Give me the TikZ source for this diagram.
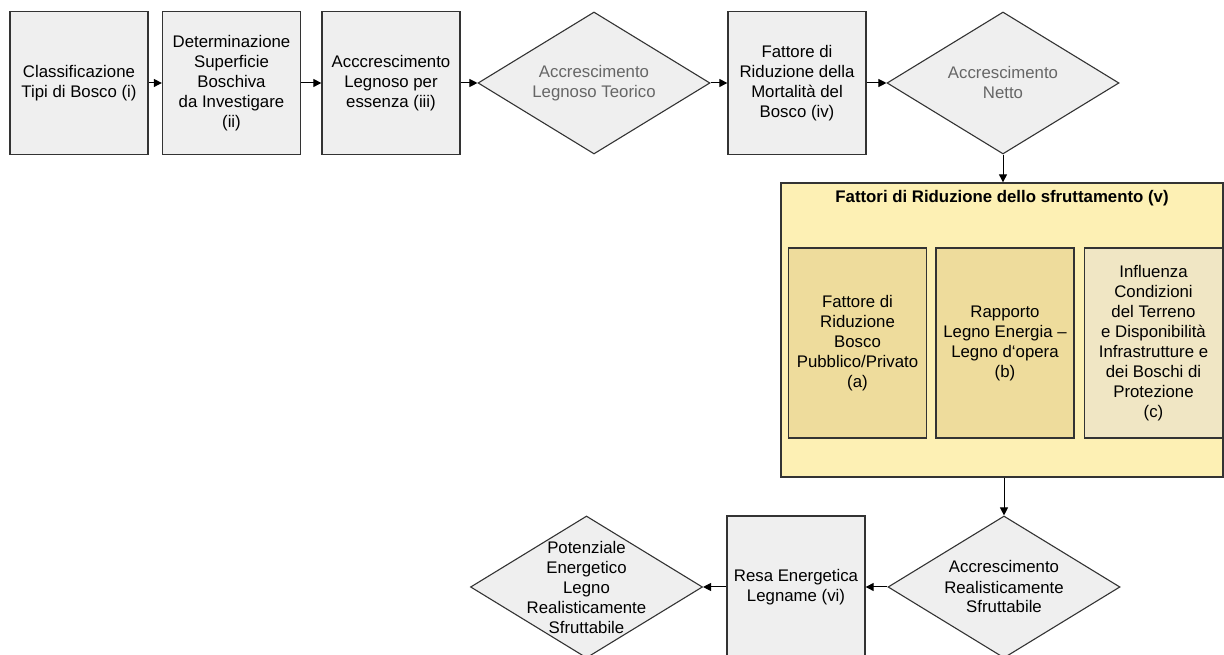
\documentclass[tikz,border=0pt]{standalone}
\usepackage{fontspec}
\setmainfont{Liberation Sans}
\usetikzlibrary{shapes.geometric,arrows.meta}

\definecolor{boxgray}{HTML}{EFEFEF}
\definecolor{linegray}{HTML}{333333}
\definecolor{txtgray}{HTML}{666666}
\definecolor{panelyel}{HTML}{FDF0B4}
\definecolor{factdark}{HTML}{EEDC9C}
\definecolor{factlight}{HTML}{F0E6C4}

\tikzset{
  stepbox/.style={draw=linegray, line width=1.3pt, fill=boxgray, align=center,
    minimum width=138pt, minimum height=143pt, inner sep=0pt},
  decision/.style={diamond, draw=linegray, line width=1.1pt, fill=boxgray,
    minimum width=232pt, minimum height=142pt, inner sep=0pt},
  lbl/.style={align=center},
  factor/.style={stepbox, minimum height=190pt, fill=factdark},
  flow/.style={-{Triangle[length=8pt,width=8pt]}, line width=1pt, black}
}

\begin{document}
\begin{tikzpicture}[x=1pt, y=1pt, font=\fontsize{16.8}{20}\selectfont]
\useasboundingbox (0,0) rectangle (1224,655);
\clip (0,0) rectangle (1224,655);

% first row
\node[stepbox] (tipi) at (79,572) {Classificazione\\Tipi di Bosco (i)};
\node[stepbox] (sup) at (231.5,572) {Determinazione\\Superficie\\Boschiva\\da Investigare\\(ii)};
\node[stepbox] (essenza) at (391,572) {Acccrescimento\\Legnoso per\\essenza (iii)};
\node[decision, label={[lbl, text=txtgray]center:Accrescimento\\Legnoso Teorico}] (teorico) at (594,572) {};
\node[stepbox] (mort) at (797,572) {Fattore di\\Riduzione della\\Mortalità del\\Bosco (iv)};
\node[decision, label={[lbl, text=txtgray]center:Accrescimento\\Netto}] (netto) at (1003,572) {};

% reduction factors
\node[draw=linegray, line width=1.3pt, fill=panelyel, minimum width=442pt,
  minimum height=294pt, inner sep=0pt] (fattori) at (1002,325) {};
\node[font=\fontsize{16.8}{20}\selectfont\bfseries] (titolo) at (1002,457) {Fattori di Riduzione dello sfruttamento (v)};
\node[factor] (pubpriv) at (857.5,312) {Fattore di\\Riduzione\\Bosco\\Pubblico/Privato\\(a)};
\node[factor] (rapporto) at (1005,312) {Rapporto\\Legno Energia –\\Legno d‘opera\\(b)};
\node[factor, fill=factlight] (terreno) at (1153.5,312) {Influenza\\Condizioni\\del Terreno\\e Disponibilità\\Infrastrutture e\\dei Boschi di\\Protezione\\(c)};

% last row
\node[decision, label={[lbl]center:Accrescimento\\Realisticamente\\Sfruttabile}] (real) at (1004,68) {};
\node[stepbox, minimum height=142pt] (resa) at (796,68) {Resa Energetica\\Legname (vi)};
\node[decision, label={[lbl]center:Potenziale\\Energetico\\Legno\\Realisticamente\\Sfruttabile}] (potenz) at (586.5,68) {};

\draw[flow] (tipi) -- (sup);
\draw[flow] (sup) -- (essenza);
\draw[flow] (essenza) -- (teorico);
\draw[flow] (teorico) -- (mort);
\draw[flow] (mort) -- (netto);
\draw[flow] (netto) -- (netto |- fattori.north);
\draw[flow] (real |- fattori.south) -- (real);
\draw[flow] (real) -- (resa);
\draw[flow] (resa) -- (potenz);
\end{tikzpicture}
\end{document}
